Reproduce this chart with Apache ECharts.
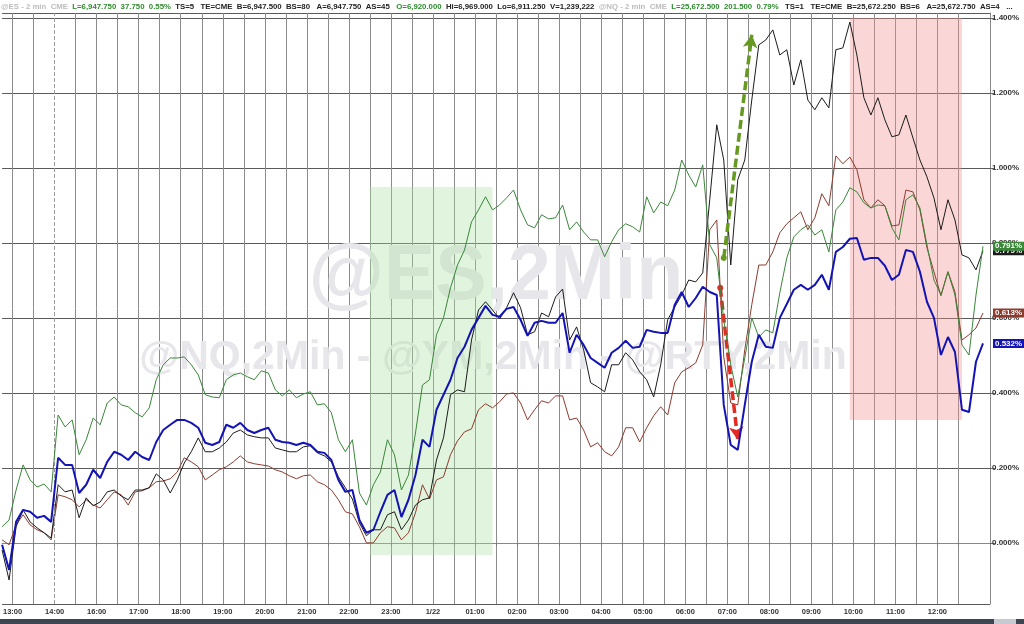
<!DOCTYPE html>
<html><head><meta charset="utf-8">
<script src="https://cdn.jsdelivr.net/npm/echarts@6/dist/echarts.min.js"></script>
<style>html,body{margin:0;padding:0;background:#fff}#c{width:1024px;height:624px}</style>
</head><body><div id="c"></div>
<script>
// ---- tick labels (one per hour slot on the display axis) ----
const HOUR_LABELS = ['13:00','14:00','16:00','17:00','18:00','19:00','20:00','21:00','22:00','23:00','1/22',
  '01:00','02:00','03:00','04:00','05:00','06:00','07:00','08:00','09:00','10:00','11:00','12:00'];

// ---- % change series, sampled every 10 minutes starting 12:45 ----
const ES_2MIN = [
-0.005,-0.072,0.056,0.088,0.083,0.067,0.072,0.056,0.227,0.208,
0.208,0.133,0.155,0.195,0.173,0.216,0.243,0.235,0.221,0.243,
0.229,0.221,0.269,0.301,0.315,0.328,0.328,0.320,0.307,0.267,
0.261,0.269,0.315,0.307,0.320,0.301,0.293,0.301,0.307,0.275,
0.269,0.267,0.261,0.267,0.261,0.243,0.240,0.221,0.168,0.136,
0.141,0.061,0.027,0.035,0.083,0.128,0.141,0.069,0.115,0.181,
0.275,0.256,0.355,0.395,0.435,0.493,0.523,0.568,0.600,0.632,
0.608,0.603,0.624,0.629,0.595,0.552,0.587,0.592,0.587,0.587,
0.613,0.507,0.555,0.528,0.493,0.480,0.467,0.507,0.520,0.539,
0.520,0.523,0.568,0.563,0.560,0.560,0.635,0.669,0.629,0.653,
0.683,0.669,0.661,0.368,0.261,0.248,0.368,0.483,0.555,0.523,
0.520,0.600,0.637,0.675,0.688,0.675,0.688,0.715,0.675,0.776,
0.789,0.811,0.813,0.755,0.760,0.760,0.739,0.701,0.715,0.781,
0.776,0.723,0.643,0.600,0.501,0.549,0.509,0.355,0.349,0.483,
0.532];
const NQ_2MIN = [
0.043,0.061,0.141,0.208,0.168,0.149,0.157,0.136,0.341,0.309,
0.328,0.235,0.275,0.333,0.315,0.373,0.389,0.368,0.363,0.347,
0.336,0.360,0.435,0.475,0.493,0.493,0.496,0.475,0.448,0.395,
0.389,0.387,0.435,0.448,0.453,0.443,0.435,0.459,0.453,0.408,
0.392,0.408,0.387,0.397,0.403,0.368,0.371,0.347,0.275,0.243,
0.275,0.133,0.101,0.155,0.189,0.275,0.235,0.141,0.181,0.293,
0.421,0.435,0.555,0.600,0.680,0.741,0.781,0.856,0.888,0.923,
0.888,0.901,0.920,0.941,0.888,0.848,0.840,0.875,0.864,0.867,
0.901,0.835,0.856,0.829,0.808,0.808,0.763,0.803,0.835,0.851,
0.843,0.829,0.923,0.880,0.909,0.899,0.941,1.021,0.981,0.949,
1.008,0.795,0.760,0.595,0.475,0.389,0.493,0.600,0.549,0.568,
0.560,0.667,0.760,0.816,0.835,0.848,0.821,0.835,0.776,0.888,
0.909,0.947,0.936,0.907,0.893,0.901,0.899,0.840,0.808,0.915,
0.928,0.893,0.795,0.701,0.661,0.723,0.661,0.528,0.501,0.661,
0.791];
const RTY_2MIN = [
-0.019,-0.099,0.043,0.088,0.056,0.040,0.027,0.013,0.155,0.136,
0.141,0.067,0.120,0.099,0.109,0.136,0.141,0.125,0.115,0.141,
0.141,0.147,0.184,0.168,0.133,0.168,0.213,0.243,0.280,0.243,
0.243,0.253,0.269,0.293,0.301,0.288,0.283,0.280,0.280,0.253,
0.248,0.243,0.243,0.256,0.259,0.240,0.232,0.216,0.176,0.147,
0.117,0.053,0.019,0.035,0.035,0.075,0.083,0.035,0.061,0.101,
0.115,0.120,0.221,0.280,0.395,0.408,0.403,0.541,0.621,0.643,
0.621,0.597,0.627,0.667,0.627,0.555,0.563,0.613,0.603,0.656,
0.677,0.541,0.576,0.515,0.427,0.416,0.403,0.475,0.475,0.507,
0.488,0.456,0.435,0.389,0.475,0.595,0.629,0.661,0.701,0.696,
0.720,0.915,1.115,1.021,0.741,0.968,1.021,1.181,1.328,1.341,
1.368,1.301,1.315,1.221,1.288,1.181,1.155,1.187,1.160,1.315,
1.320,1.389,1.301,1.187,1.141,1.187,1.128,1.083,1.088,1.141,
1.080,1.021,0.976,0.920,0.835,0.915,0.861,0.768,0.760,0.728,
0.779];
const YM_2MIN = [
0.008,-0.005,0.048,0.075,0.048,0.035,0.027,0.008,0.128,0.123,
0.115,0.096,0.115,0.101,0.093,0.115,0.136,0.128,0.101,0.136,
0.139,0.147,0.163,0.165,0.171,0.189,0.227,0.216,0.203,0.168,
0.181,0.195,0.203,0.216,0.232,0.216,0.211,0.208,0.205,0.195,
0.189,0.179,0.171,0.179,0.181,0.163,0.155,0.141,0.115,0.083,
0.077,0.043,0.000,0.000,0.027,0.043,0.040,0.008,0.027,0.080,
0.155,0.117,0.168,0.176,0.235,0.272,0.296,0.304,0.355,0.371,
0.360,0.376,0.397,0.400,0.373,0.328,0.355,0.379,0.373,0.392,
0.392,0.328,0.333,0.301,0.256,0.267,0.243,0.232,0.256,0.307,
0.307,0.269,0.307,0.339,0.363,0.341,0.427,0.456,0.467,0.480,
0.528,0.835,0.861,0.496,0.373,0.368,0.515,0.635,0.741,0.741,
0.776,0.827,0.851,0.867,0.883,0.835,0.867,0.931,0.899,1.032,
1.011,1.029,0.995,0.915,0.893,0.915,0.899,0.845,0.848,0.941,
0.936,0.888,0.787,0.723,0.659,0.723,0.669,0.541,0.555,0.573,
0.613];

// ---- axis layout: 5-minute slots from 12:45 to 13:15 ----
const N_SLOTS = 283;
const SAMPLE_STEP = 2;      // data every 2 slots (10 min)
const FIRST_HOUR_SLOT = 3;  // 13:00
const SLOTS_PER_HOUR = 12;
const LAST_GRID_SLOT = 273;
const DASHED_SLOT = 15;     // 14:00 session line

const categories = Array.from({length: N_SLOTS}, (_, k) => String(k));
function spread(vals) {
  const out = new Array(N_SLOTS).fill(null);
  vals.forEach((v, i) => { out[i * SAMPLE_STEP] = v; });
  return out;
}
const FONT = 'Liberation Sans, Arial, sans-serif';
function lineSeries(name, vals, color, width, z) {
  return {
    name, type: 'line', data: spread(vals), connectNulls: true, showSymbol: false, symbol: 'none',
    lineStyle: { color, width }, itemStyle: { color }, z, animation: false, silent: true,
    endLabel: { show: true, formatter: p => Number(p.value).toFixed(3) + '%', backgroundColor: color,
      color: '#fff', fontSize: 8, fontWeight: 'bold', fontFamily: FONT, padding: [1, 2, 0, 2], distance: 10 }
  };
}
const HDR = 'bold 7.8px ' + FONT;

const chart = echarts.init(document.getElementById('c'), null, { renderer: 'canvas' });
const option = {
  animation: false,
  backgroundColor: '#fff',
  grid: { left: 0, right: 34, top: 13, bottom: 20, containLabel: false },
  xAxis: {
    type: 'category', data: categories, boundaryGap: false,
    axisLine: { show: true, lineStyle: { color: '#888' } },
    axisTick: { show: true, length: 3, interval: i => i >= FIRST_HOUR_SLOT && (i - FIRST_HOUR_SLOT) % 6 === 0 && i <= LAST_GRID_SLOT, lineStyle: { color: '#777' } },
    axisLabel: {
      interval: i => i >= FIRST_HOUR_SLOT && (i - FIRST_HOUR_SLOT) % SLOTS_PER_HOUR === 0,
      formatter: (v, i) => HOUR_LABELS[(i - FIRST_HOUR_SLOT) / SLOTS_PER_HOUR] || '',
      fontSize: 7.5, fontWeight: 'bold', color: '#333', fontFamily: FONT, margin: 4
    },
    splitLine: { show: true, interval: i => i >= FIRST_HOUR_SLOT && (i - FIRST_HOUR_SLOT) % 6 === 0 && i <= LAST_GRID_SLOT && i !== DASHED_SLOT,
      lineStyle: { color: '#8c8c8c', width: 1 } }
  },
  yAxis: {
    type: 'value', position: 'right', min: -0.163, max: 1.413, splitNumber: 8,
    axisLine: { show: true, lineStyle: { color: '#888' } },
    axisTick: { show: true, length: 5, lineStyle: { color: '#666' } },
    axisLabel: { formatter: v => v.toFixed(3) + '%', fontSize: 8, color: '#333', fontWeight: 'bold', fontFamily: FONT,
      margin: 2, showMinLabel: false, showMaxLabel: false },
    splitLine: { show: true, lineStyle: { color: '#5a5a5a', width: 1 } }
  },
  graphic: [
    { type: 'text', x: 496, y: 278, z: 1, silent: true,
      style: { text: '@ES,2Min', font: 'bold 77px ' + FONT, fill: '#e7e7eb', align: 'center', verticalAlign: 'middle' } },
    { type: 'text', x: 493, y: 358, z: 1, silent: true,
      style: { text: '@NQ,2Min - @YM,2Min - @RTY,2Min', font: 'bold 41px ' + FONT, fill: '#e7e7eb', align: 'center', verticalAlign: 'middle' } },
    { type: 'text', x: 1, y: 7, z: 10, silent: true,
      style: {
        text: '{g|@ES - 2 min  CME}  {n|L=6,947.750  37.750  0.55%}  {k|TS=5   TE=CME  B=6,947.500  BS=80   A=6,947.750  AS=45}   {n|O=6,920.000}  {k|Hi=6,969.000  Lo=6,911.250  V=1,239,222}  {g|@NQ - 2 min  CME}  {n|L=25,672.500  201.500  0.79%}   {k|TS=1   TE=CME  B=25,672.250  BS=6   A=25,672.750  AS=4   ...}',
        font: HDR, verticalAlign: 'middle',
        rich: { g: { fill: '#bcbcbc', font: HDR }, n: { fill: '#2e8b2e', font: HDR }, k: { fill: '#222', font: HDR } }
      } },
    { type: 'rect', shape: { x: 0, y: 619, width: 1024, height: 5 }, style: { fill: '#3d4552' }, z: 10, silent: true },
    { type: 'rect', shape: { x: 994, y: 619, width: 22, height: 5 }, style: { fill: '#c6cad1' }, z: 11, silent: true }
  ],
  series: [
    {
      name: 'annotations', type: 'line', data: [], z: 1, silent: true,
      markArea: { silent: true, data: [
        [{ xAxis: 105, yAxis: 0.949, itemStyle: { color: 'rgba(170,225,160,0.35)' } }, { xAxis: 140, yAxis: -0.032 }],
        [{ xAxis: 241.5, yAxis: 1.40, itemStyle: { color: 'rgba(240,140,140,0.36)' } }, { xAxis: 274, yAxis: 0.328 }]
      ] },
      markLine: { silent: true, animation: false, symbol: ['none', 'none'], label: { show: false }, data: [
        { xAxis: DASHED_SLOT, lineStyle: { type: 'dashed', color: '#999', width: 1 }, symbol: 'none' }
      ] }
    },
    lineSeries('YM', YM_2MIN, '#8e3b2e', 1, 3),
    lineSeries('RTY', RTY_2MIN, '#1c1c1c', 1, 4),
    lineSeries('NQ', NQ_2MIN, '#3a873a', 1, 5),
    lineSeries('ES', ES_2MIN, '#1414b4', 2, 6),
    {
      name: 'arrows', type: 'line', data: [], z: 8, silent: true,
      markLine: { silent: true, animation: false, label: { show: false }, data: [
        [{ coord: [206, 0.76], symbol: 'circle', symbolSize: 6 },
         { coord: [214, 1.355], symbol: 'arrow', symbolSize: [11, 13], lineStyle: { type: [9, 4], width: 3.5, color: '#66991f' } }],
        [{ coord: [205, 0.68], symbol: 'circle', symbolSize: 6 },
         { coord: [210, 0.275], symbol: 'arrow', symbolSize: [11, 13], lineStyle: { type: [9, 4], width: 3.5, color: '#e22a22' } }]
      ] }
    }
  ]
};
chart.setOption(option);
</script></body></html>
